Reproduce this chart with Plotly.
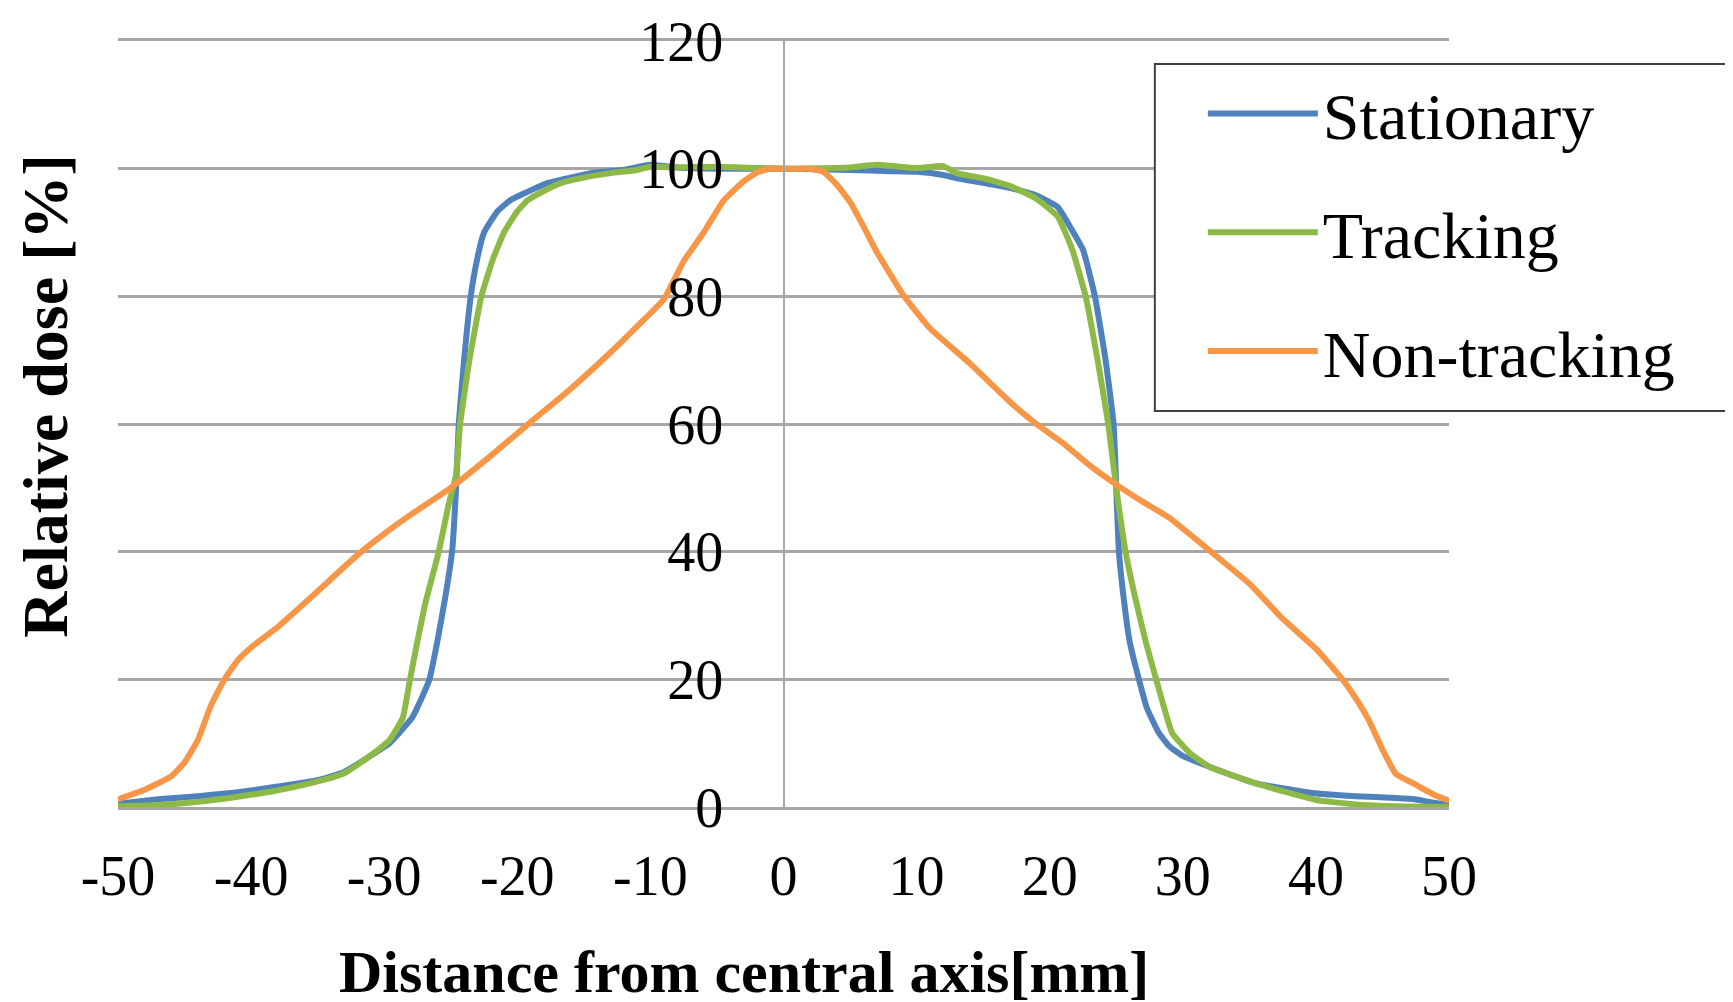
import plotly.graph_objects as go

# ---- data ----
stat_x = [-50, -47, -44, -41, -38, -35, -33, -31.2, -29.6, -28.5, -27.9, -27.2, -26.6, -26.0, -25.4,
          -24.9, -24.6, -24.4, -24.0, -23.5, -23.0, -22.5, -21.5, -20.5, -19, -17.8, -16, -14.5, -12,
          -10, -8, -5, 0, 5, 8, 10, 12, 13, 15, 17, 19, 20.6, 21.5, 22.5, 23.4, 24.2, 24.8, 25.0,
          25.2, 25.6, 26.0, 26.7, 27.3, 28.2, 29, 30, 32, 35.5, 39.7, 43, 46, 47.4, 48.5, 50]
stat_y = [0.5, 1.2, 1.7, 2.3, 3.2, 4.2, 5.5, 7.8, 10.0, 12.5, 14.0, 17.0, 20.0, 26.0, 33.0,
          40.0, 50.0, 60.0, 70.0, 80.0, 86.0, 90.0, 93.3, 95.1, 96.6, 97.7, 98.6, 99.3, 99.8,
          100.6, 100.2, 100.0, 100.0, 99.8, 99.6, 99.5, 99.0, 98.5, 97.8, 97.0, 95.8, 94.0, 91.0, 87.3, 80.0, 70.0, 60.0, 50.0,
          40.0, 32.0, 26.0, 20.0, 15.5, 11.6, 9.5, 8.0, 6.3, 3.7, 2.2, 1.7, 1.4, 1.2, 0.8, 0.3]

track_x = [-50, -47, -44, -41, -38, -35, -33, -31.2, -29.6, -28.6, -28.06, -27.5, -26.9, -26.4, -25.9,
           -25.2, -24.6, -24.3, -23.6, -22.7, -21.8, -21.0, -20.0, -19.2, -18, -16.8, -15, -13, -11,
           -10, -8, -5, 0, 5, 7, 10, 12, 13, 15, 17, 19, 20.6, 21.7, 22.7, 23.6, 24.4, 25.0,
           25.7, 26.4, 27.2, 28.0, 29.2, 30.5, 32, 35.5, 38, 40, 43, 46, 50]
track_y = [0.1, 0.3, 0.8, 1.6, 2.6, 4.0, 5.3, 7.8, 10.5, 14.0, 20.0, 26.0, 32.0, 36.0, 40.0,
           47.0, 52.0, 60.0, 70.0, 80.0, 86.0, 90.0, 93.3, 95.1, 96.5, 97.7, 98.6, 99.3, 99.8,
           100.3, 100.2, 100.3, 100.0, 100.2, 100.6, 100.1, 100.4, 99.3, 98.5, 97.3, 95.3, 92.5, 87.3, 80.0, 70.0, 60.0, 50.0,
           40.0, 33.0, 26.0, 20.0, 11.6, 8.5, 6.3, 3.7, 2.2, 1.1, 0.4, 0.1, 0.0]

nontr_x = [-50, -48, -46, -45, -44, -43, -42, -41, -40, -38, -35, -32, -30, -28, -25, -22, -19,
           -16, -13, -11, -9, -7.5, -6, -4.5, -3, -2, -1, 0, 1, 2, 3, 4, 5, 6, 7, 9, 11, 14,
           17, 19, 21, 23, 25, 27, 29, 32, 35, 37.5, 40, 42, 43, 44, 45, 45.5, 46, 47.5, 49, 50]
nontr_y = [1.2, 2.7, 4.8, 7.0, 10.5, 16.0, 20.0, 23.0, 25.0, 28.2, 33.8, 39.5, 42.8, 45.8, 50.0, 55.0, 60.3,
           65.5, 71.2, 75.3, 79.5, 85.5, 90.0, 95.0, 98.0, 99.4, 100.0, 100.0, 100.0, 100.0, 99.5, 97.5, 94.8, 91.0, 87.0, 80.2, 75.0, 69.5,
           63.5, 60.0, 57.0, 53.5, 50.5, 47.8, 45.3, 40.2, 35.0, 29.5, 24.8, 20.0, 17.0, 13.5, 9.0, 7.0, 5.2, 3.5, 1.8, 1.0]

series_names = ["Stationary", "Tracking", "Non-tracking"]
series_colors = ["#4F81BD", "#8DBA47", "#F79646"]

x_ticks = [-50, -40, -30, -20, -10, 0, 10, 20, 30, 40, 50]
y_ticks = [0, 20, 40, 60, 80, 100, 120]

x_title = "Distance from central axis[mm]"
y_title = "Relative dose [%]"

FONT = "Liberation Serif, Times New Roman, serif"
GRID = "#A6A6A6"

fig = go.Figure()
for name, xs, ys, col in zip(series_names, [stat_x, track_x, nontr_x], [stat_y, track_y, nontr_y], series_colors):
    fig.add_trace(go.Scatter(x=xs, y=ys, mode="lines", name=name, legendgroup=name,
                             line=dict(color=col, width=6, shape="spline", smoothing=0.4)))

# legend frame: white box running off the right edge (left, top and bottom sides drawn)
LX0, LX1, LY0, LY1 = 0.779, 1.6, 0.517, 0.970

fig.update_layout(
    width=1733, height=1002,
    margin=dict(l=110, r=292, t=33, b=203, autoexpand=False),
    paper_bgcolor="white", plot_bgcolor="white",
    font=dict(family=FONT, color="black"),
    showlegend=True,
    legend=dict(x=0.779, y=0.970, xanchor="left", yanchor="top",
                borderwidth=0, bgcolor="rgba(0,0,0,0)",
                font=dict(family=FONT, size=66, color="black"),
                itemwidth=110, tracegroupgap=30, indentation=48),
    xaxis=dict(range=[-50, 50], tickvals=x_ticks, ticktext=[str(v) for v in x_ticks],
               showgrid=False, zeroline=False, showline=True, mirror=True,
               linecolor=GRID, linewidth=2.5, automargin=False,
               ticks="", ticklabelstandoff=18, tickfont=dict(family=FONT, size=56)),
    yaxis=dict(range=[0, 120], tickvals=y_ticks, ticktext=[str(v) for v in y_ticks],
               anchor="free", position=0.5, automargin=False,
               showgrid=True, gridcolor=GRID, gridwidth=2.5, zeroline=False,
               showline=True, linecolor=GRID, linewidth=2,
               ticks="", ticklabelstandoff=48, tickfont=dict(family=FONT, size=56)),
    shapes=[
        dict(type="rect", xref="paper", yref="paper", x0=LX0, x1=LX1, y0=LY0, y1=LY1,
             fillcolor="white", line=dict(width=0), layer="above"),
        dict(type="path", xref="paper", yref="paper",
             path=f"M {LX1},{LY0} L {LX0},{LY0} L {LX0},{LY1} L {LX1},{LY1}",
             line=dict(color="#404040", width=2), layer="above"),
    ],
    annotations=[
        dict(text="<b>" + x_title + "</b>", xref="paper", yref="paper", x=0.470, y=-0.2154,
             xanchor="center", yanchor="middle", showarrow=False,
             font=dict(family=FONT, size=60, color="black")),
        dict(text="<b>" + y_title + "</b>", xref="paper", yref="paper", x=-0.0541, y=0.537,
             xanchor="center", yanchor="middle", showarrow=False, textangle=-90,
             font=dict(family=FONT, size=64, color="black")),
    ],
)

fig.write_html("out.html")
